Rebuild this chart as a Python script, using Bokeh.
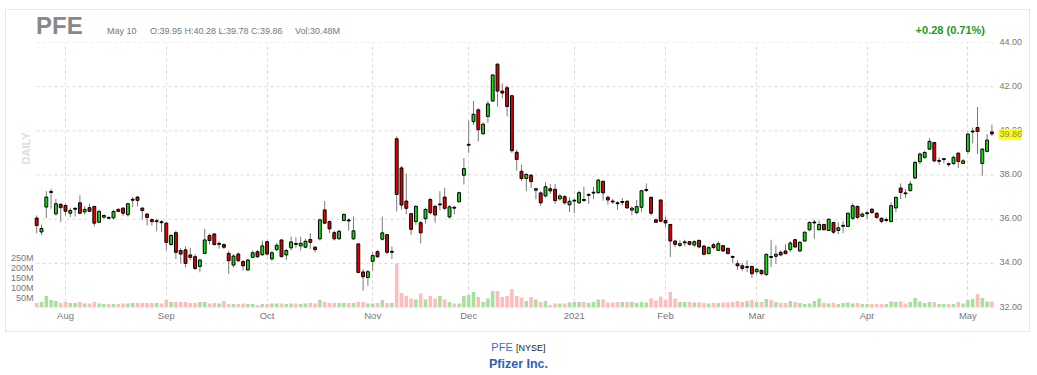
import math
import pandas as pd
from bokeh.plotting import figure
from bokeh.models import Range1d, FixedTicker, Div, Grid, ColumnDataSource
from bokeh.core.properties import value
from bokeh.layouts import column, row
from bokeh.embed import file_html
from bokeh.resources import INLINE

symbol = "PFE"
exchange = "NYSE"
company = "Pfizer Inc."
interval_label = "DAILY"
start_date = "2020-07-24"
end_date = "2021-05-10"
market_holidays = ["2020-09-07", "2020-11-26", "2020-12-25", "2021-01-01",
                   "2021-01-18", "2021-02-15", "2021-04-02"]

opens = [
    36.05, 35.42, 36.55, 37.23, 36.24, 36.67, 36.62, 36.27, 36.47, 36.74,
    36.33, 36.52, 36.58, 35.86, 36.09, 36.06, 36.06, 36.44, 36.50, 36.20,
    36.88, 37.00, 36.50, 36.23, 35.98, 35.91, 35.86, 35.82, 34.85, 35.39,
    34.58, 34.61, 34.38, 34.30, 33.86, 34.45, 35.26, 35.33, 34.88, 34.85,
    34.45, 33.92, 34.42, 34.08, 33.70, 34.27, 34.53, 34.39, 34.98, 34.20,
    34.62, 35.06, 34.38, 34.70, 34.88, 34.79, 34.73, 35.08, 34.73, 35.11,
    36.42, 35.89, 35.39, 35.11, 35.94, 35.94, 35.11, 34.88, 33.61, 33.36,
    34.09, 34.53, 35.09, 35.30, 34.52, 39.64, 38.32, 36.82, 36.25, 35.89,
    35.84, 36.02, 36.89, 36.58, 36.67, 37.00, 36.10, 36.52, 36.79, 37.99,
    39.37, 40.42, 40.95, 39.87, 40.65, 41.35, 43.02, 41.80, 41.95, 41.59,
    39.03, 38.17, 37.84, 37.99, 37.31, 37.19, 37.05, 37.38, 37.35, 36.92,
    37.02, 36.65, 36.84, 36.74, 36.87, 37.10, 37.20, 37.20, 37.71, 36.99,
    36.80, 36.72, 36.78, 36.81, 36.41, 36.30, 36.54, 37.32, 36.99, 35.97,
    36.87, 35.94, 35.76, 35.01, 34.81, 34.95, 34.98, 34.83, 35.04, 34.78,
    34.44, 34.84, 34.59, 34.80, 34.68, 34.29, 33.98, 33.89, 33.83, 33.86,
    33.62, 33.68, 33.49, 34.29, 34.32, 34.50, 34.56, 34.62, 35.07, 34.56,
    35.01, 35.52, 35.85, 35.52, 35.76, 35.49, 35.85, 35.49, 35.70, 35.67,
    36.04, 36.58, 36.13, 36.27, 36.45, 36.27, 36.04, 35.96, 35.89, 36.51,
    37.41, 37.17, 37.29, 37.86, 38.60, 38.80, 39.17, 39.47, 38.64, 38.72,
    38.49, 38.52, 38.99, 38.52, 39.07, 39.97, 40.15, 38.52, 39.07, 39.95,
]
highs = [
    36.17, 35.76, 37.27, 37.38, 36.92, 36.73, 36.70, 36.52, 36.55, 37.08,
    36.59, 36.70, 36.58, 36.44, 36.21, 36.12, 36.42, 36.50, 36.55, 36.74,
    37.00, 37.05, 36.55, 36.27, 36.02, 36.02, 35.97, 35.86, 35.33, 35.48,
    34.70, 34.76, 34.70, 34.42, 34.21, 35.56, 35.36, 35.36, 35.00, 34.91,
    34.58, 34.42, 34.50, 34.15, 34.20, 34.58, 34.61, 35.03, 35.03, 34.58,
    34.91, 35.06, 34.65, 35.21, 35.18, 35.21, 35.11, 35.36, 34.79, 36.02,
    36.82, 35.94, 35.48, 35.52, 36.27, 36.05, 36.12, 34.91, 33.73, 33.70,
    34.50, 34.61, 36.12, 35.33, 34.76, 39.75, 38.40, 38.07, 36.29, 36.64,
    35.92, 36.52, 36.97, 36.64, 37.27, 37.42, 36.64, 36.59, 37.24, 38.77,
    40.47, 41.35, 41.02, 40.38, 41.35, 42.57, 43.05, 42.15, 42.05, 41.62,
    39.15, 38.47, 38.07, 38.05, 37.42, 37.26, 37.67, 37.59, 37.59, 37.14,
    37.10, 36.99, 36.92, 37.29, 37.47, 37.17, 37.47, 37.82, 37.77, 37.07,
    36.92, 36.81, 36.96, 36.87, 36.57, 36.87, 37.32, 37.62, 37.02, 36.02,
    36.87, 36.12, 35.79, 35.07, 35.04, 35.07, 35.01, 35.04, 35.07, 34.84,
    34.77, 34.92, 35.01, 34.84, 34.71, 34.36, 34.14, 34.02, 34.14, 33.89,
    33.80, 33.73, 34.44, 35.07, 34.81, 34.59, 34.86, 35.01, 35.11, 35.01,
    35.44, 35.91, 35.97, 35.94, 35.79, 36.03, 35.88, 35.86, 35.91, 36.31,
    36.72, 36.61, 36.31, 36.36, 36.51, 36.31, 36.08, 36.08, 36.76, 37.02,
    37.62, 37.36, 37.74, 38.64, 39.02, 39.10, 39.67, 39.50, 38.80, 38.75,
    38.57, 38.87, 39.02, 38.72, 39.92, 40.15, 41.08, 39.22, 39.85, 40.28,
]
lows = [
    35.36, 35.27, 36.06, 36.47, 36.17, 35.86, 36.17, 36.09, 36.12, 36.21,
    36.21, 36.32, 35.67, 35.82, 36.02, 36.00, 35.98, 36.32, 36.14, 36.12,
    36.55, 36.58, 35.97, 35.71, 35.71, 35.45, 35.41, 34.58, 34.80, 34.20,
    34.00, 33.82, 34.15, 33.70, 33.59, 34.42, 34.85, 34.80, 34.67, 34.65,
    33.52, 33.82, 34.05, 33.67, 33.67, 34.24, 34.24, 34.33, 34.35, 34.12,
    34.55, 34.30, 34.15, 34.58, 34.70, 34.58, 34.70, 34.65, 34.50, 35.03,
    35.79, 35.36, 35.03, 35.08, 35.91, 35.48, 35.06, 33.55, 32.76, 32.98,
    33.67, 34.24, 35.03, 34.42, 34.20, 36.34, 36.44, 36.22, 35.29, 35.74,
    34.90, 35.80, 36.22, 35.84, 36.40, 36.40, 36.02, 36.22, 36.74, 37.57,
    39.00, 40.27, 39.52, 39.82, 40.35, 41.32, 41.10, 41.47, 40.65, 39.00,
    38.20, 37.72, 37.27, 37.42, 36.90, 36.59, 36.99, 37.14, 36.69, 36.84,
    36.66, 36.32, 36.27, 36.69, 36.77, 36.69, 36.92, 37.14, 36.84, 36.66,
    36.69, 36.42, 36.62, 36.47, 36.17, 36.21, 36.32, 37.22, 36.17, 35.86,
    35.86, 35.64, 34.29, 34.74, 34.74, 34.77, 34.81, 34.74, 34.71, 34.36,
    34.41, 34.66, 34.56, 34.51, 34.41, 34.02, 33.71, 33.65, 33.61, 33.34,
    33.50, 33.46, 33.43, 33.83, 33.98, 34.32, 34.41, 34.51, 34.69, 34.51,
    34.96, 35.46, 35.11, 35.49, 35.49, 35.46, 35.34, 35.31, 35.37, 35.66,
    35.96, 36.01, 36.08, 36.01, 36.23, 36.01, 35.81, 35.86, 35.86, 36.31,
    36.91, 36.96, 37.26, 37.82, 38.49, 38.72, 39.13, 38.57, 38.46, 38.52,
    38.37, 38.46, 38.31, 38.49, 38.95, 39.43, 38.95, 37.97, 39.02, 39.78,
]
closes = [
    35.71, 35.58, 37.00, 37.23, 36.70, 36.52, 36.36, 36.39, 36.47, 36.27,
    36.44, 36.36, 35.82, 36.35, 36.17, 36.06, 36.35, 36.35, 36.27, 36.70,
    36.88, 36.85, 36.39, 36.08, 35.89, 35.91, 35.86, 34.95, 35.26, 34.50,
    34.42, 34.00, 34.27, 33.77, 34.15, 35.06, 35.03, 34.85, 34.88, 34.73,
    34.12, 34.33, 34.12, 33.89, 34.15, 34.48, 34.30, 34.79, 34.42, 34.48,
    34.82, 34.30, 34.58, 34.97, 34.88, 34.91, 35.00, 34.95, 34.62, 35.97,
    35.82, 35.56, 35.11, 35.45, 36.21, 35.94, 35.47, 33.59, 33.39, 33.62,
    34.35, 34.30, 35.38, 34.50, 34.52, 37.12, 36.64, 36.49, 35.54, 36.58,
    35.38, 36.44, 36.29, 36.19, 36.67, 36.49, 36.56, 36.52, 37.20, 38.29,
    39.37, 40.75, 40.05, 40.30, 41.22, 42.53, 41.80, 41.71, 41.10, 39.10,
    38.70, 37.84, 38.03, 37.70, 37.38, 36.74, 37.47, 37.28, 36.84, 37.05,
    36.74, 36.81, 36.84, 37.20, 36.87, 37.10, 37.20, 37.77, 37.19, 36.87,
    36.80, 36.72, 36.78, 36.51, 36.50, 36.57, 37.29, 37.32, 36.27, 35.86,
    35.91, 35.83, 35.01, 34.86, 34.89, 34.95, 34.86, 34.98, 34.74, 34.41,
    34.71, 34.71, 34.89, 34.56, 34.44, 34.29, 33.89, 33.77, 33.83, 33.53,
    33.73, 33.53, 34.41, 34.29, 34.41, 34.38, 34.44, 34.92, 34.74, 34.95,
    35.41, 35.85, 35.85, 35.76, 35.52, 36.00, 35.41, 35.61, 35.70, 36.27,
    36.61, 36.08, 36.23, 36.27, 36.30, 36.08, 35.90, 35.96, 36.61, 36.99,
    37.21, 37.17, 37.59, 38.57, 38.95, 39.02, 39.52, 38.64, 38.64, 38.72,
    38.49, 38.80, 38.61, 38.64, 39.85, 39.97, 39.97, 39.17, 39.58, 39.86,
]
volumes_m = [
    23, 28, 57, 37, 32, 23, 28, 23, 23, 28,
    20, 20, 27, 20, 17, 17, 17, 17, 20, 20,
    23, 23, 23, 23, 23, 23, 20, 37, 28, 28,
    28, 28, 23, 23, 28, 28, 20, 23, 20, 32,
    17, 17, 17, 20, 17, 17, 12, 17, 17, 20,
    20, 20, 17, 20, 20, 17, 20, 23, 20, 37,
    28, 23, 23, 23, 23, 23, 23, 28, 28, 20,
    20, 23, 37, 23, 23, 220, 73, 57, 45, 40,
    70, 40, 57, 45, 57, 40, 28, 20, 20, 58,
    62, 78, 53, 28, 45, 83, 83, 53, 57, 92,
    57, 50, 33, 53, 40, 28, 33, 12, 20, 20,
    20, 25, 28, 28, 28, 23, 28, 40, 40, 25,
    25, 28, 28, 28, 28, 23, 28, 25, 45, 35,
    55, 38, 78, 45, 28, 28, 28, 25, 26, 23,
    20, 23, 23, 25, 25, 28, 33, 28, 33, 37,
    28, 28, 42, 37, 28, 23, 23, 33, 28, 23,
    17, 20, 33, 45, 24, 20, 24, 17, 22, 25,
    20, 22, 17, 17, 17, 17, 17, 17, 30, 27,
    30, 20, 27, 47, 30, 23, 27, 27, 17, 17,
    17, 17, 27, 20, 37, 42, 67, 47, 30, 30.48,
]

month_labels = ["Aug", "Sep", "Oct", "Nov", "Dec", "2021", "Feb", "Mar", "Apr", "May"]
month_starts = ["2020-08-03", "2020-09-01", "2020-10-01", "2020-11-02", "2020-12-01",
                "2021-01-04", "2021-02-01", "2021-03-01", "2021-04-01", "2021-05-03"]
price_ticks = [32, 34, 36, 38, 40, 42, 44]
volume_ticks = [50, 100, 150, 200, 250]

# ---- trading-day axis ----
dates = [d for d in pd.bdate_range(start_date, end_date)
         if d.strftime("%Y-%m-%d") not in market_holidays]
date_strs = [d.strftime("%Y-%m-%d") for d in dates]
n = len(closes)
xs = list(range(n))
month_idx = [date_strs.index(m) for m in month_starts]

FONT = "Liberation Sans"
UP = "#12dd12"
DOWN = "#e00000"
VOL_UP = "#a9e0a0"
VOL_DOWN = "#ffbcbc"
GRID = "#d9d9d9"
TXT = "#777777"

up_x, up_top, up_bot = [], [], []
dn_x, dn_top, dn_bot = [], [], []
dj_x, dj_top, dj_bot = [], [], []
vol_colors = []
for i in range(n):
    o, c = opens[i], closes[i]
    if c - o > 0.015:
        up_x.append(i); up_top.append(c); up_bot.append(o)
    elif o - c > 0.015:
        dn_x.append(i); dn_top.append(o); dn_bot.append(c)
    else:
        dj_x.append(i); dj_top.append(c + 0.02); dj_bot.append(c - 0.02)
    if c > o + 0.015:
        vol_colors.append(VOL_UP)
    elif c < o - 0.015:
        vol_colors.append(VOL_DOWN)
    else:
        prev = closes[i - 1] if i > 0 else c
        vol_colors.append(VOL_UP if c >= prev else VOL_DOWN)

last = n - 1
change = closes[last] - closes[last - 1]
pct = change / closes[last - 1] * 100

# Page geometry: chart box x=6..1029, y=10..331; candle area x=34..994, y=42..307
PX_PER_DAY = 4.8
X0_PAGE = 36.2                     # page x of the first trading day
PX_PER_DOLLAR = 265.0 / (price_ticks[-1] - price_ticks[0])
PX_PER_MVOL = 0.2


def xi(page_x):
    return (page_x - X0_PAGE) / PX_PER_DAY


def py_price(page_y):
    return price_ticks[-1] - (page_y - 42) / PX_PER_DOLLAR


# ---------- header strip (HTML, positions relative to box top-left) ----------
def span(txt, left, top, size, weight, color, right=None):
    pos = f"right:{right}px;" if right is not None else f"left:{left}px;"
    return (f"<span style=\"position:absolute;{pos}top:{top}px;font-size:{size}px;"
            f"line-height:{size}px;font-weight:{weight};color:{color};"
            f"white-space:nowrap;\">{txt}</span>")

hdr_html = (
    f"<div style=\"position:relative;width:988px;height:32px;overflow:visible;"
    f"font-family:'{FONT}',Arial,sans-serif;\">"
    + span(symbol, 30, 4.2, 24, "bold", "#888888")
    + span(dates[last].strftime("%b %d").replace(" 0", " "), 101, 17.4, 9, "normal", TXT)
    + span(f"O:{opens[last]:.2f} H:{highs[last]:.2f} L:{lows[last]:.2f} C:{closes[last]:.2f}",
           144, 17.4, 9, "normal", TXT)
    + span(f"Vol:{volumes_m[last]:.2f}M", 289, 17.4, 9, "normal", TXT)
    + span(f"{change:+.2f} ({pct:.2f}%)", 0, 15.2, 11, "bold",
           "#229922" if change >= 0 else "#cc0000", right=9)
    + "</div>"
)
hdr = Div(text=hdr_html, width=988, height=32, margin=(0, 0, 0, 0))

# ---------- main price / volume chart (frame spans page x 6..994, y 42..307) ----------
p = figure(width=988, height=289,
           x_range=Range1d(xi(6), xi(994)),
           y_range=Range1d(price_ticks[0], price_ticks[-1]),
           output_backend="svg", toolbar_location=None, y_axis_location=None,
           title_location=None,
           min_border_left=0, min_border_right=0, min_border_top=0,
           min_border_bottom=24)
p.outline_line_color = None
p.background_fill_color = "white"
p.border_fill_color = "white"
p.extra_y_ranges = {"vol": Range1d(0, 265 / PX_PER_MVOL)}

for g in list(p.xgrid) + list(p.ygrid):
    g.visible = False
xg = Grid(dimension=0, ticker=FixedTicker(ticks=month_idx), grid_line_color=GRID,
          grid_line_dash="3 3", grid_line_width=1)
p.add_layout(xg, "center")
# horizontal price grid lines over the candle area only
p.segment(x0=[xi(36)] * len(price_ticks), y0=price_ticks,
          x1=[xi(994)] * len(price_ticks), y1=price_ticks,
          line_color=GRID, line_dash="3 3", line_width=1)

p.xaxis.ticker = FixedTicker(ticks=month_idx)
p.xaxis.major_label_overrides = {i: lab for i, lab in zip(month_idx, month_labels)}
p.xaxis.axis_line_color = None
p.xaxis.major_tick_line_color = None
p.xaxis.minor_tick_line_color = None
p.xaxis.major_tick_out = 0
p.xaxis.major_tick_in = 0
p.xaxis.minor_tick_out = 0
p.xaxis.major_label_standoff = 2
p.xaxis.major_label_text_font = FONT
p.xaxis.major_label_text_font_size = "9.5px"
p.xaxis.major_label_text_color = TXT

# volume scale labels (left) and interval watermark
p.text(x=[xi(33)] * len(volume_ticks), y=volume_ticks, text=[f"{v}M" for v in volume_ticks],
       y_range_name="vol", text_font=value(FONT), text_font_size="9px", text_color=TXT,
       text_align="right", text_baseline="middle")
p.text(x=[xi(25)], y=[py_price(148)], text=[interval_label], angle=math.pi / 2,
       text_font=value(FONT), text_font_size="11px", text_font_style="bold",
       text_color="#dddddd", text_align="center", text_baseline="middle")

vsrc = ColumnDataSource(dict(x=xs, v=volumes_m, c=vol_colors))
p.vbar(x="x", top="v", bottom=0, width=0.74, fill_color="c", line_color=None,
       y_range_name="vol", source=vsrc)

wsrc = ColumnDataSource(dict(x=xs, h=highs, l=lows))
p.segment(x0="x", y0="l", x1="x", y1="h", line_color="#7a7a7a", line_width=1, source=wsrc)

p.vbar(x=up_x, top=up_top, bottom=up_bot, width=0.6, fill_color=UP,
       line_color="black", line_width=1)
p.vbar(x=dn_x, top=dn_top, bottom=dn_bot, width=0.6, fill_color=DOWN,
       line_color="black", line_width=1)
p.vbar(x=dj_x, top=dj_top, bottom=dj_bot, width=0.6, fill_color="black",
       line_color="black", line_width=1)

# ---------- right price scale strip (x in page px, y in price) ----------
y_top = price_ticks[-1] + 32 / PX_PER_DOLLAR   # page y = 10
y_bot = price_ticks[0] - 24 / PX_PER_DOLLAR    # page y = 331
rs = figure(width=35, height=321, x_range=Range1d(994, 1029), y_range=Range1d(y_bot, y_top),
            output_backend="svg", toolbar_location=None, x_axis_location=None,
            y_axis_location=None, title_location=None,
            min_border=0, min_border_left=0, min_border_right=0,
            min_border_top=0, min_border_bottom=0)
rs.outline_line_color = None
rs.background_fill_color = "white"
rs.border_fill_color = "white"
rs.xgrid.visible = False
rs.ygrid.visible = False
rs.text(x=[999] * len(price_ticks), y=price_ticks, text=[f"{t:.2f}" for t in price_ticks],
        text_font=value(FONT), text_font_size="9px", text_color=TXT,
        text_align="left", text_baseline="middle", y_offset=-1)
rs.rect(x=[1009.5], y=[closes[last]], width=23, height=10, width_units="screen",
        height_units="screen", fill_color="#ffff00", line_color=None)
rs.text(x=[999], y=[closes[last]], text=[f"{closes[last]:.2f}"],
        text_font=value(FONT), text_font_size="9px", text_color="#888888",
        text_align="left", text_baseline="middle")

box = row(column(hdr, p, spacing=0), rs, spacing=0)
box.margin = (10, 0, 0, 6)
box.styles = {"outline": "1px solid #e6e6e6"}

footer = Div(
    text=(
        f"<div style=\"width:1037px;text-align:center;font-family:'{FONT}',Arial,sans-serif;\">"
        f"<div style=\"height:16px;line-height:16px;margin-top:8px;\">"
        f"<span style=\"color:#3a6fc7;font-size:11px;\">{symbol}</span> "
        f"<span style=\"color:#222222;font-size:9px;\">[{exchange}]</span></div>"
        f"<div style=\"height:18px;line-height:18px;color:#2c62b9;font-weight:bold;"
        f"font-size:12.5px;\">{company}</div></div>"
    ),
    width=1037, height=44, margin=(0, 0, 0, 0),
)

layout = column(box, footer, spacing=0)
open("out.html", "w").write(file_html(layout, INLINE))
